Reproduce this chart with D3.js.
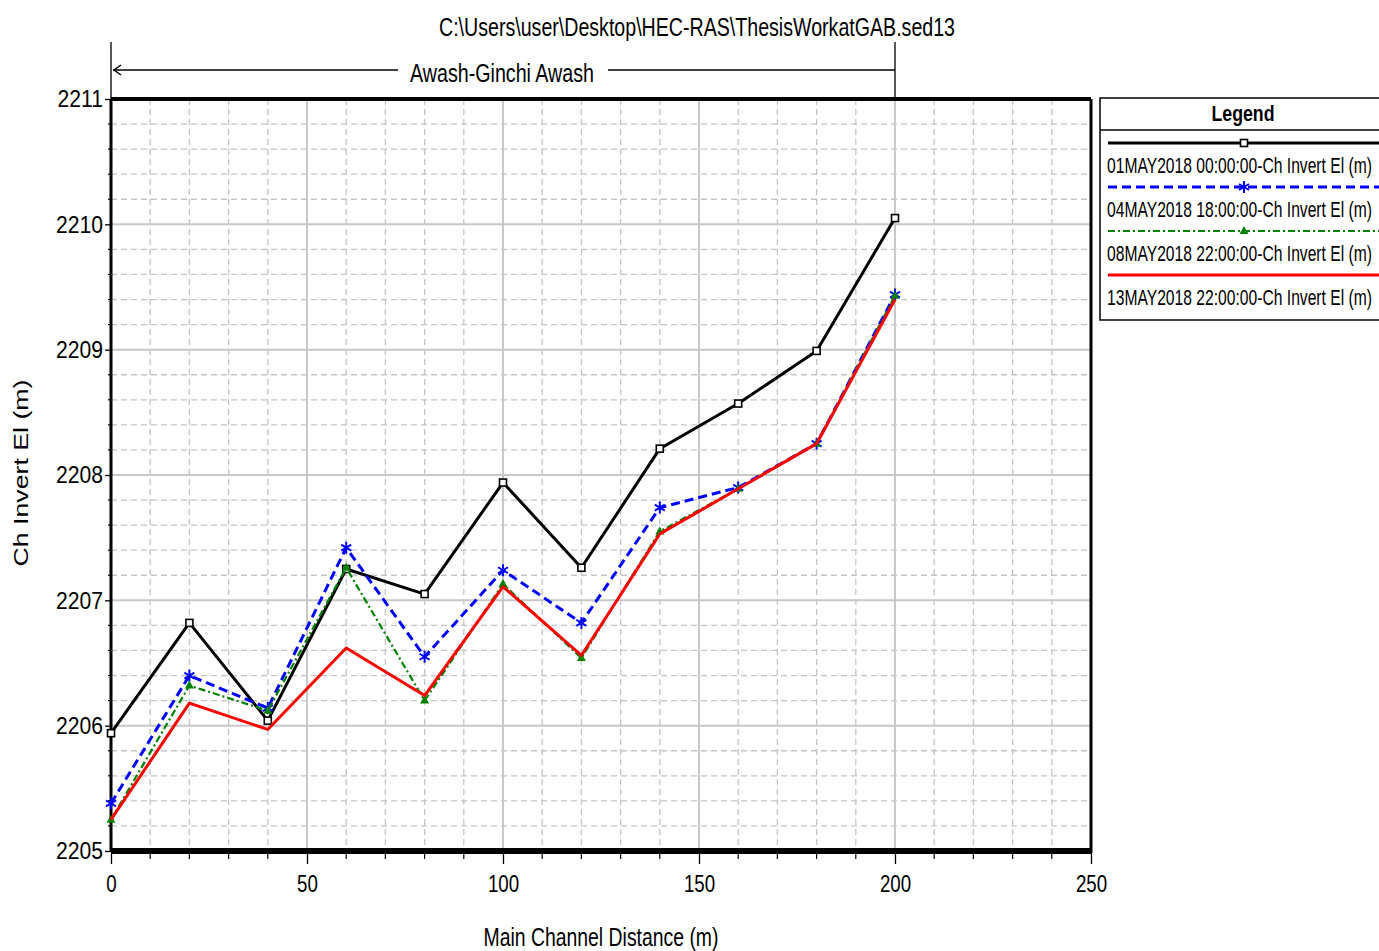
<!DOCTYPE html>
<html>
<head>
<meta charset="utf-8">
<script src="https://cdn.jsdelivr.net/npm/d3@7"></script>
<style>
  html, body { margin: 0; padding: 0; background: #fff; }
  svg { display: block; }
  text { font-family: "Liberation Sans", Arial, sans-serif; }
</style>
</head>
<body>
<svg id="chart" width="1379" height="951"></svg>
<script>
// Main channel stations (m)
const distances = [0, 20, 40, 60, 80, 100, 120, 140, 160, 180, 200];

// Channel invert elevation (m) for each profile time
const inv01May = [2205.94, 2206.82, 2206.04, 2207.25, 2207.05, 2207.94, 2207.26, 2208.21, 2208.57, 2208.99, 2210.05];
const inv04May = [2205.38, 2206.40, 2206.14, 2207.42, 2206.55, 2207.24, 2206.82, 2207.74, 2207.90, 2208.25, 2209.44];
const inv08May = [2205.25, 2206.32, 2206.12, 2207.26, 2206.20, 2207.13, 2206.54, 2207.55, 2207.89, 2208.25, 2209.43];
const inv13May = [2205.25, 2206.18, 2205.97, 2206.62, 2206.24, 2207.11, 2206.56, 2207.53, 2207.89, 2208.25, 2209.40];

const seriesNames = [
  "01MAY2018 00:00:00-Ch Invert El (m)",
  "04MAY2018 18:00:00-Ch Invert El (m)",
  "08MAY2018 22:00:00-Ch Invert El (m)",
  "13MAY2018 22:00:00-Ch Invert El (m)"
];

const xTicks = [0, 50, 100, 150, 200, 250];
const yTicks = [2205, 2206, 2207, 2208, 2209, 2210, 2211];

const titleText = "C:\\Users\\user\\Desktop\\HEC-RAS\\ThesisWorkatGAB.sed13";
const reachText = "Awash-Ginchi Awash";
const xTitle = "Main Channel Distance (m)";
const yTitle = "Ch Invert El (m)";

const svg = d3.select("#chart");
const L = 111, R = 1091, T = 99, B = 851;

const x = d3.scaleLinear().domain([0, 250]).range([L, R]);
const y = d3.scaleLinear().domain([2205, 2211]).range([B, T]);

// Condensed look: squeeze a text horizontally, to a target width or by a factor
function narrow(sel, width, factor) {
  sel.each(function () {
    const w = this.getComputedTextLength();
    d3.select(this).attr("textLength", width || w * (factor || 0.8)).attr("lengthAdjust", "spacingAndGlyphs");
  });
}

// Grid: dashed minor lines, solid major lines
const g = svg.append("g");
d3.range(0, 251, 10).filter(v => v % 50 !== 0).forEach(v => {
  g.append("line").attr("x1", x(v)).attr("x2", x(v)).attr("y1", T).attr("y2", B)
    .attr("stroke", "#c4c4c4").attr("stroke-width", 1.3).attr("stroke-dasharray", "6,4");
});
d3.range(0, 30).map(i => 2205 + i * 0.2).filter((v, i) => i % 5 !== 0).forEach(v => {
  g.append("line").attr("x1", L).attr("x2", R).attr("y1", y(v)).attr("y2", y(v))
    .attr("stroke", "#c4c4c4").attr("stroke-width", 1.3).attr("stroke-dasharray", "6,4");
});
xTicks.slice(1, -1).forEach(v => {
  g.append("line").attr("x1", x(v)).attr("x2", x(v)).attr("y1", T).attr("y2", B)
    .attr("stroke", "#c8c8c8").attr("stroke-width", 2);
});
yTicks.slice(1, -1).forEach(v => {
  g.append("line").attr("x1", L).attr("x2", R).attr("y1", y(v)).attr("y2", y(v))
    .attr("stroke", "#c8c8c8").attr("stroke-width", 2);
});

// Axes
const xAxis = d3.axisBottom(x).tickValues(xTicks).tickSize(10).tickFormat(d3.format("d"));
const xAx = svg.append("g").attr("transform", `translate(0,${B + 3})`).call(xAxis);
xAx.select(".domain").remove();
xAx.selectAll(".tick line").attr("stroke", "#000").attr("stroke-width", 1.3);
xAx.selectAll(".tick text").attr("font-family", null).attr("font-size", 24).attr("fill", "#000")
  .attr("dy", 25).call(narrow, null, 0.78);
d3.range(10, 250, 10).filter(v => v % 50 !== 0).forEach(v => {
  svg.append("line").attr("x1", x(v)).attr("x2", x(v)).attr("y1", B + 3).attr("y2", B + 8)
    .attr("stroke", "#000").attr("stroke-width", 1.2);
});

const yAxis = d3.axisLeft(y).tickValues(yTicks).tickSize(6).tickFormat(d3.format("d"));
const yAx = svg.append("g").attr("transform", `translate(${L},0)`).call(yAxis);
yAx.select(".domain").remove();
yAx.selectAll(".tick line").attr("stroke", "#000").attr("stroke-width", 1.3);
yAx.selectAll(".tick text").attr("font-family", null).attr("font-size", 24).attr("fill", "#000")
  .attr("x", -8).call(narrow, null, 0.88);
d3.range(0, 30).map(i => 2205 + i * 0.2).filter((v, i) => i % 5 !== 0).forEach(v => {
  svg.append("line").attr("x1", L - 3).attr("x2", L).attr("y1", y(v)).attr("y2", y(v))
    .attr("stroke", "#000").attr("stroke-width", 1.2);
});

// Frame
svg.append("line").attr("x1", L).attr("x2", R).attr("y1", T).attr("y2", T).attr("stroke", "#000").attr("stroke-width", 4);
svg.append("line").attr("x1", L).attr("x2", L).attr("y1", T).attr("y2", B).attr("stroke", "#000").attr("stroke-width", 3);
svg.append("line").attr("x1", R).attr("x2", R).attr("y1", T).attr("y2", B + 2).attr("stroke", "#000").attr("stroke-width", 3);
svg.append("line").attr("x1", L).attr("x2", R + 1).attr("y1", B).attr("y2", B).attr("stroke", "#000").attr("stroke-width", 6);

// Series
const series = [
  { name: seriesNames[0], vals: inv01May, color: "#000000", width: 3, dash: null, marker: "square" },
  { name: seriesNames[1], vals: inv04May, color: "#0000ff", width: 3, dash: "9,5", marker: "star" },
  { name: seriesNames[2], vals: inv08May, color: "#008000", width: 2.2, dash: "7,3,2,3", marker: "tri" },
  { name: seriesNames[3], vals: inv13May, color: "#ff0000", width: 3, dash: null, marker: "none" }
];

const line = d3.line().x(d => x(d[0])).y(d => y(d[1]));

function drawMarker(sel, type, cx, cy, color) {
  if (type === "square") {
    sel.append("rect").attr("x", cx - 3.5).attr("y", cy - 3.5).attr("width", 7).attr("height", 7)
      .attr("fill", "#fff").attr("stroke", color).attr("stroke-width", 1.6);
  } else if (type === "star") {
    sel.append("path")
      .attr("d", `M${cx},${cy - 6}L${cx},${cy + 6}M${cx - 5},${cy - 3}L${cx + 5},${cy + 3}M${cx - 5},${cy + 3}L${cx + 5},${cy - 3}`)
      .attr("stroke", color).attr("stroke-width", 2);
  } else if (type === "tri") {
    sel.append("path").attr("d", `M${cx},${cy - 5}L${cx + 4.5},${cy + 3}L${cx - 4.5},${cy + 3}Z`)
      .attr("fill", color);
  }
}

const plot = svg.append("g");
series.forEach(s => {
  const pts = distances.map((d, i) => [d, s.vals[i]]);
  plot.append("path").attr("d", line(pts)).attr("fill", "none")
    .attr("stroke", s.color).attr("stroke-width", s.width)
    .attr("stroke-dasharray", s.dash).attr("stroke-linejoin", "round");
  pts.forEach(p => drawMarker(plot, s.marker, x(p[0]), y(p[1]), s.color));
});

// Title
svg.append("text").attr("x", 697).attr("y", 36)
  .attr("text-anchor", "middle").attr("font-size", 25).text(titleText).call(narrow, 516);

// Reach extent marker
const reachY = 70;
svg.append("line").attr("x1", x(0)).attr("x2", x(0)).attr("y1", 42).attr("y2", T).attr("stroke", "#000").attr("stroke-width", 1.3);
svg.append("line").attr("x1", x(200)).attr("x2", x(200)).attr("y1", 42).attr("y2", T).attr("stroke", "#000").attr("stroke-width", 1.3);
svg.append("line").attr("x1", x(0) + 2).attr("x2", 398).attr("y1", reachY).attr("y2", reachY).attr("stroke", "#000").attr("stroke-width", 1.3);
svg.append("line").attr("x1", 608).attr("x2", x(200)).attr("y1", reachY).attr("y2", reachY).attr("stroke", "#000").attr("stroke-width", 1.3);
svg.append("path").attr("d", `M${x(0) + 10},${reachY - 5}L${x(0) + 3},${reachY}L${x(0) + 10},${reachY + 5}`)
  .attr("fill", "none").attr("stroke", "#000").attr("stroke-width", 1.5);
svg.append("text").attr("x", 502).attr("y", 82)
  .attr("text-anchor", "middle").attr("font-size", 25).text(reachText).call(narrow, 184);

// Axis titles
svg.append("text").attr("x", 601).attr("y", 946)
  .attr("text-anchor", "middle").attr("font-size", 25).text(xTitle).call(narrow, 235);
svg.append("text").attr("transform", "translate(28,473) rotate(-90)")
  .attr("text-anchor", "middle").attr("font-size", 20).text(yTitle).call(narrow, 187);

// Legend
const lg = svg.append("g");
const lgL = 1100, lgT = 98, lgB = 320;
lg.append("rect").attr("x", lgL).attr("y", lgT).attr("width", 320).attr("height", lgB - lgT)
  .attr("fill", "#fff").attr("stroke", "#000").attr("stroke-width", 1.5);
lg.append("line").attr("x1", lgL).attr("x2", 1379).attr("y1", 130).attr("y2", 130).attr("stroke", "#000").attr("stroke-width", 1.5);
lg.append("text").attr("x", 1243).attr("y", 121).attr("text-anchor", "middle")
  .attr("font-size", 22).attr("font-weight", "bold").text("Legend").call(narrow, 63);
series.forEach((s, i) => {
  const ly = 143 + i * 44;
  lg.append("line").attr("x1", 1108).attr("x2", 1379).attr("y1", ly).attr("y2", ly)
    .attr("stroke", s.color).attr("stroke-width", s.width).attr("stroke-dasharray", s.dash);
  drawMarker(lg, s.marker, 1244, ly, s.color);
  lg.append("text").attr("x", 1107).attr("y", ly + 30)
    .attr("font-size", 22).attr("fill", "#000").text(s.name).call(narrow, 265);
});
</script>
</body>
</html>
